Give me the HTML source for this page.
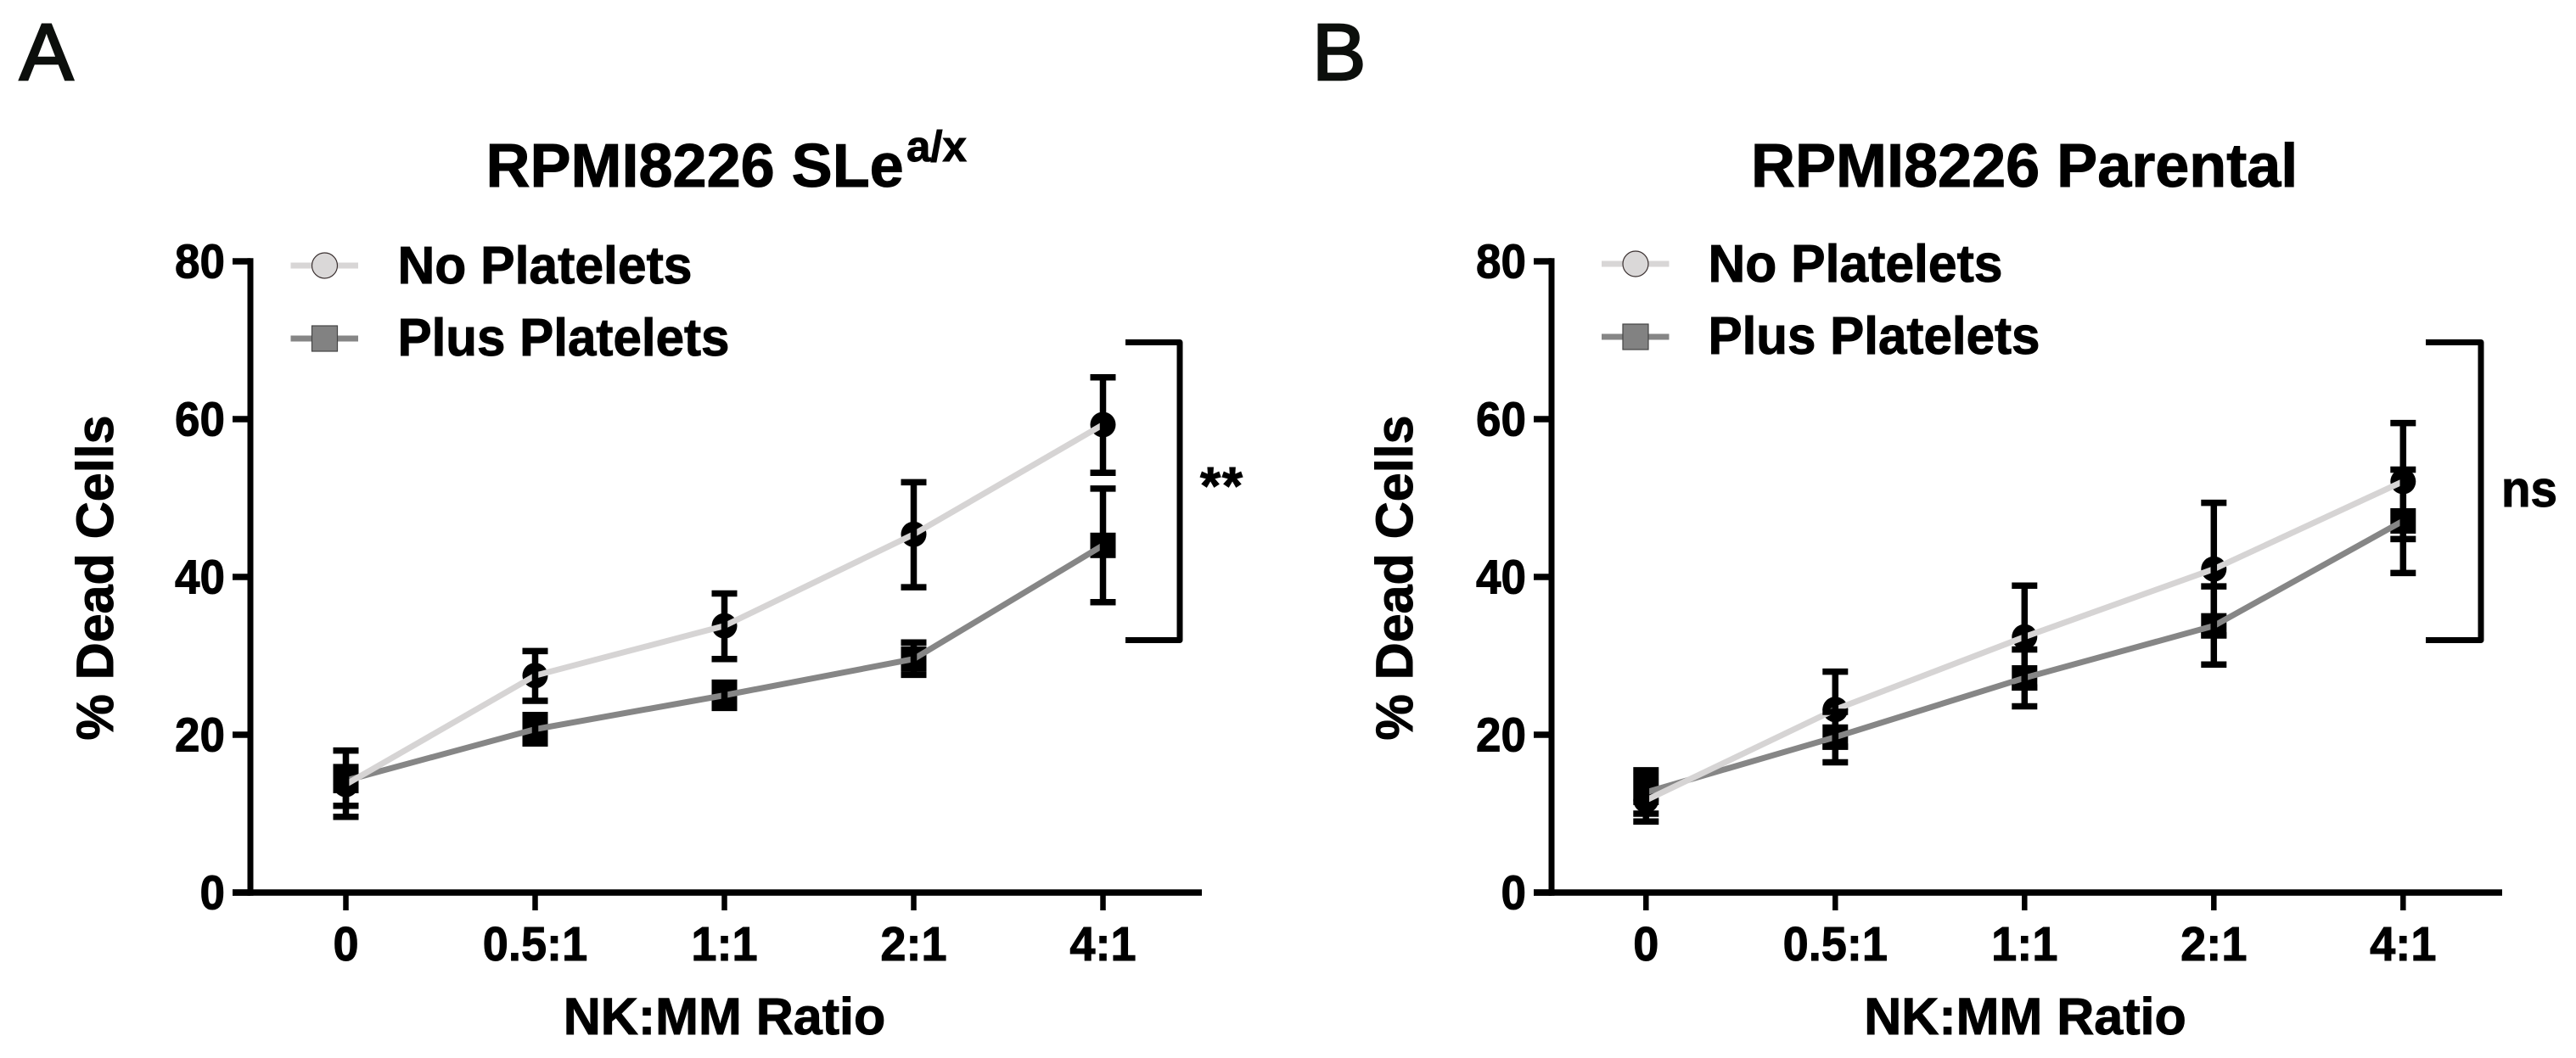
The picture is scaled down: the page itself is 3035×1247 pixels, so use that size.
<!DOCTYPE html>
<html lang="en">
<head>
<meta charset="utf-8">
<title>Percent dead cells by NK:MM ratio</title>
<style>
html,body{margin:0;padding:0;background:#fff;width:3035px;height:1247px;overflow:hidden}
svg{display:block}
text{font-family:"Liberation Sans",Arial,sans-serif;font-weight:700;fill:#000;stroke:#000;stroke-width:1}
.lt{font-weight:400;fill:#0c0f0c;stroke:#0c0f0c;stroke-width:2.6}
</style>
</head>
<body>
<svg id="fig" xmlns="http://www.w3.org/2000/svg" width="3035" height="1247" viewBox="0 0 3035 1247">
  <rect width="3035" height="1247" fill="#fff"/>

  <text class="lt" x="23" y="94" font-size="95">A</text>
  <text class="lt" x="1546" y="94" font-size="95">B</text>

  <text x="572.500" y="220" font-size="72">RPMI8226 SLe</text>
  <text x="1068" y="190" font-size="51">a/x</text>
  <text x="2063" y="220" font-size="72">RPMI8226 Parental</text>

  <text transform="translate(133,681) rotate(-90)" text-anchor="middle" font-size="61">% Dead Cells</text>
  <text transform="translate(1664,681) rotate(-90)" text-anchor="middle" font-size="61">% Dead Cells</text>
  <text x="853.5" y="1219" text-anchor="middle" font-size="61">NK:MM Ratio</text>
  <text x="2386" y="1219" text-anchor="middle" font-size="61">NK:MM Ratio</text>

  <g>
    <g>
      <line x1="342.5" y1="313" x2="422" y2="313" stroke="#d8d6d6" stroke-width="7"/>
      <circle cx="382.5" cy="313" r="15" fill="#dad8d8" stroke="#3a3030" stroke-width="1.2"/>
      <text x="468.500" y="334" font-size="62" textLength="347" lengthAdjust="spacingAndGlyphs">No Platelets</text>
    </g>
    <g>
      <line x1="342.5" y1="399" x2="422" y2="399" stroke="#868686" stroke-width="7"/>
      <rect x="367.5" y="384" width="30" height="30" fill="#828282" stroke="#444" stroke-width="1.2"/>
      <text x="468.500" y="419" font-size="62" textLength="391" lengthAdjust="spacingAndGlyphs">Plus Platelets</text>
    </g>
  </g>

  <g>
    <g>
      <line x1="1887" y1="311" x2="1966.5" y2="311" stroke="#d8d6d6" stroke-width="7"/>
      <circle cx="1927" cy="311" r="15" fill="#dad8d8" stroke="#3a3030" stroke-width="1.2"/>
      <text x="2012.500" y="332" font-size="62" textLength="347" lengthAdjust="spacingAndGlyphs">No Platelets</text>
    </g>
    <g>
      <line x1="1887" y1="397" x2="1966.5" y2="397" stroke="#868686" stroke-width="7"/>
      <rect x="1912" y="382" width="30" height="30" fill="#828282" stroke="#444" stroke-width="1.2"/>
      <text x="2012.500" y="417" font-size="62" textLength="391" lengthAdjust="spacingAndGlyphs">Plus Platelets</text>
    </g>
  </g>

  <path d="M1326 403.500H1390V754.500H1326" fill="none" stroke="#000" stroke-width="7" stroke-linejoin="round"/>
  <text x="1414" y="594" font-size="62" textLength="50">**</text>
  <path d="M2858 403.500H2923V754.500H2858" fill="none" stroke="#000" stroke-width="7" stroke-linejoin="round"/>
  <text x="2947" y="597" font-size="60" textLength="66" lengthAdjust="spacingAndGlyphs">ns</text>

  <g id="panel-a"></g>
  <g id="panel-b"></g>
</svg>

<script>
const categories = ['0', '0.5:1', '1:1', '2:1', '4:1'];
const yTickLabels = [0, 20, 40, 60, 80];

const panelANoMean = [13.7, 27.5, 33.8, 45.4, 59.3];
const panelANoHigh = [18.0, 30.6, 37.9, 52.0, 65.3];
const panelANoLow = [9.6, 24.3, 29.6, 38.7, 53.2];
const panelAPlusMean = [14.2, 20.7, 25.0, 29.6, 44.0];
const panelAPlusHigh = [15.9, 22.5, 26.6, 31.7, 51.2];
const panelAPlusLow = [11.0, 18.9, 23.4, 27.6, 36.8];

const panelBNoMean = [11.7, 23.2, 32.4, 41.0, 52.1];
const panelBNoHigh = [14.7, 28.0, 38.9, 49.4, 59.5];
const panelBNoLow = [9.0, 18.5, 26.0, 32.6, 44.8];
const panelBPlusMean = [12.7, 19.7, 27.2, 33.8, 47.1];
const panelBPlusHigh = [15.5, 22.9, 30.8, 38.8, 53.6];
const panelBPlusLow = [10.0, 16.5, 23.6, 28.9, 40.5];

const SVG_NS = 'http://www.w3.org/2000/svg';
const AXIS_Y0 = 1052;
const PX_PER_UNIT = 9.3;
const CAT_STEP = 223;

function yScale(v) { return AXIS_Y0 - v * PX_PER_UNIT; }

function mk(parent, tag, attrs) {
  const el = document.createElementNS(SVG_NS, tag);
  for (const k in attrs) el.setAttribute(k, attrs[k]);
  parent.appendChild(el);
  return el;
}

function drawPanel(rootId, spineX, firstCatX, axisEndX, noMean, noHigh, noLow, plusMean, plusHigh, plusLow) {
  const root = document.getElementById(rootId);
  const xScale = i => firstCatX + i * CAT_STEP;

  yTickLabels.forEach(v => {
    const y = yScale(v);
    const tick = mk(root, 'line', { x1: spineX - 21, y1: y, x2: spineX, y2: y, stroke: '#000', 'stroke-width': 7.5 });
    
    
    const label = mk(root, 'text', { transform: 'translate(' + (spineX - 30) + ',' + (y + 19.5) + ') scale(0.93,1)', 'text-anchor': 'end', 'font-size': 57 });
    label.textContent = v;
    
    
  });

  const ySpine = mk(root, 'line', { x1: spineX, y1: yScale(80) - 3.75, x2: spineX, y2: AXIS_Y0 + 3.75, stroke: '#000', 'stroke-width': 7 });
  
  

  const xSpine = mk(root, 'line', { x1: spineX - 21, y1: AXIS_Y0, x2: axisEndX, y2: AXIS_Y0, stroke: '#000', 'stroke-width': 7.5 });
  
  

  categories.forEach((c, i) => {
    const x = xScale(i);
    const tick = mk(root, 'line', { x1: x, y1: AXIS_Y0, x2: x, y2: AXIS_Y0 + 21, stroke: '#000', 'stroke-width': 6.5 });
    
    
    const label = mk(root, 'text', { transform: 'translate(' + x + ',1132) scale(0.95,1)', 'text-anchor': 'middle', 'font-size': 57 });
    label.textContent = c;
    
    
  });

  // markers sit beneath the lines; error bars sit on top of both
  plusMean.forEach((v, i) => {
    const square = mk(root, 'rect', { x: xScale(i) - 15, y: yScale(v) - 15, width: 30, height: 30, fill: '#000' });
    
    
  });
  noMean.forEach((v, i) => {
    const circle = mk(root, 'circle', { cx: xScale(i), cy: yScale(v), r: 15, fill: '#000' });
    
    
  });

  const plusLine = mk(root, 'polyline', { points: plusMean.map((v, i) => xScale(i) + ',' + yScale(v)).join(' '), fill: 'none', stroke: '#868686', 'stroke-width': 7, 'stroke-linejoin': 'round' });
  
  
  const noLine = mk(root, 'polyline', { points: noMean.map((v, i) => xScale(i) + ',' + yScale(v)).join(' '), fill: 'none', stroke: '#d6d4d4', 'stroke-width': 7, 'stroke-linejoin': 'round' });
  
  

  function errorBars(highs, lows, name) {
    highs.forEach((hi, i) => {
      const x = xScale(i), yh = yScale(hi), yl = yScale(lows[i]);
      const bar = mk(root, 'path', {
        d: 'M' + x + ' ' + yh + 'V' + yl + 'M' + (x - 15) + ' ' + yh + 'H' + (x + 15) + 'M' + (x - 15) + ' ' + yl + 'H' + (x + 15),
        fill: 'none', stroke: '#000', 'stroke-width': 7.5
      });
      
      
    });
  }
  errorBars(plusHigh, plusLow, 'plus-platelets-error-bar');
  errorBars(noHigh, noLow, 'no-platelets-error-bar');
}

drawPanel('panel-a', 295, 407.5, 1416, panelANoMean, panelANoHigh, panelANoLow, panelAPlusMean, panelAPlusHigh, panelAPlusLow);
drawPanel('panel-b', 1828, 1939.3, 2948, panelBNoMean, panelBNoHigh, panelBNoLow, panelBPlusMean, panelBPlusHigh, panelBPlusLow);
</script>
</body>
</html>
